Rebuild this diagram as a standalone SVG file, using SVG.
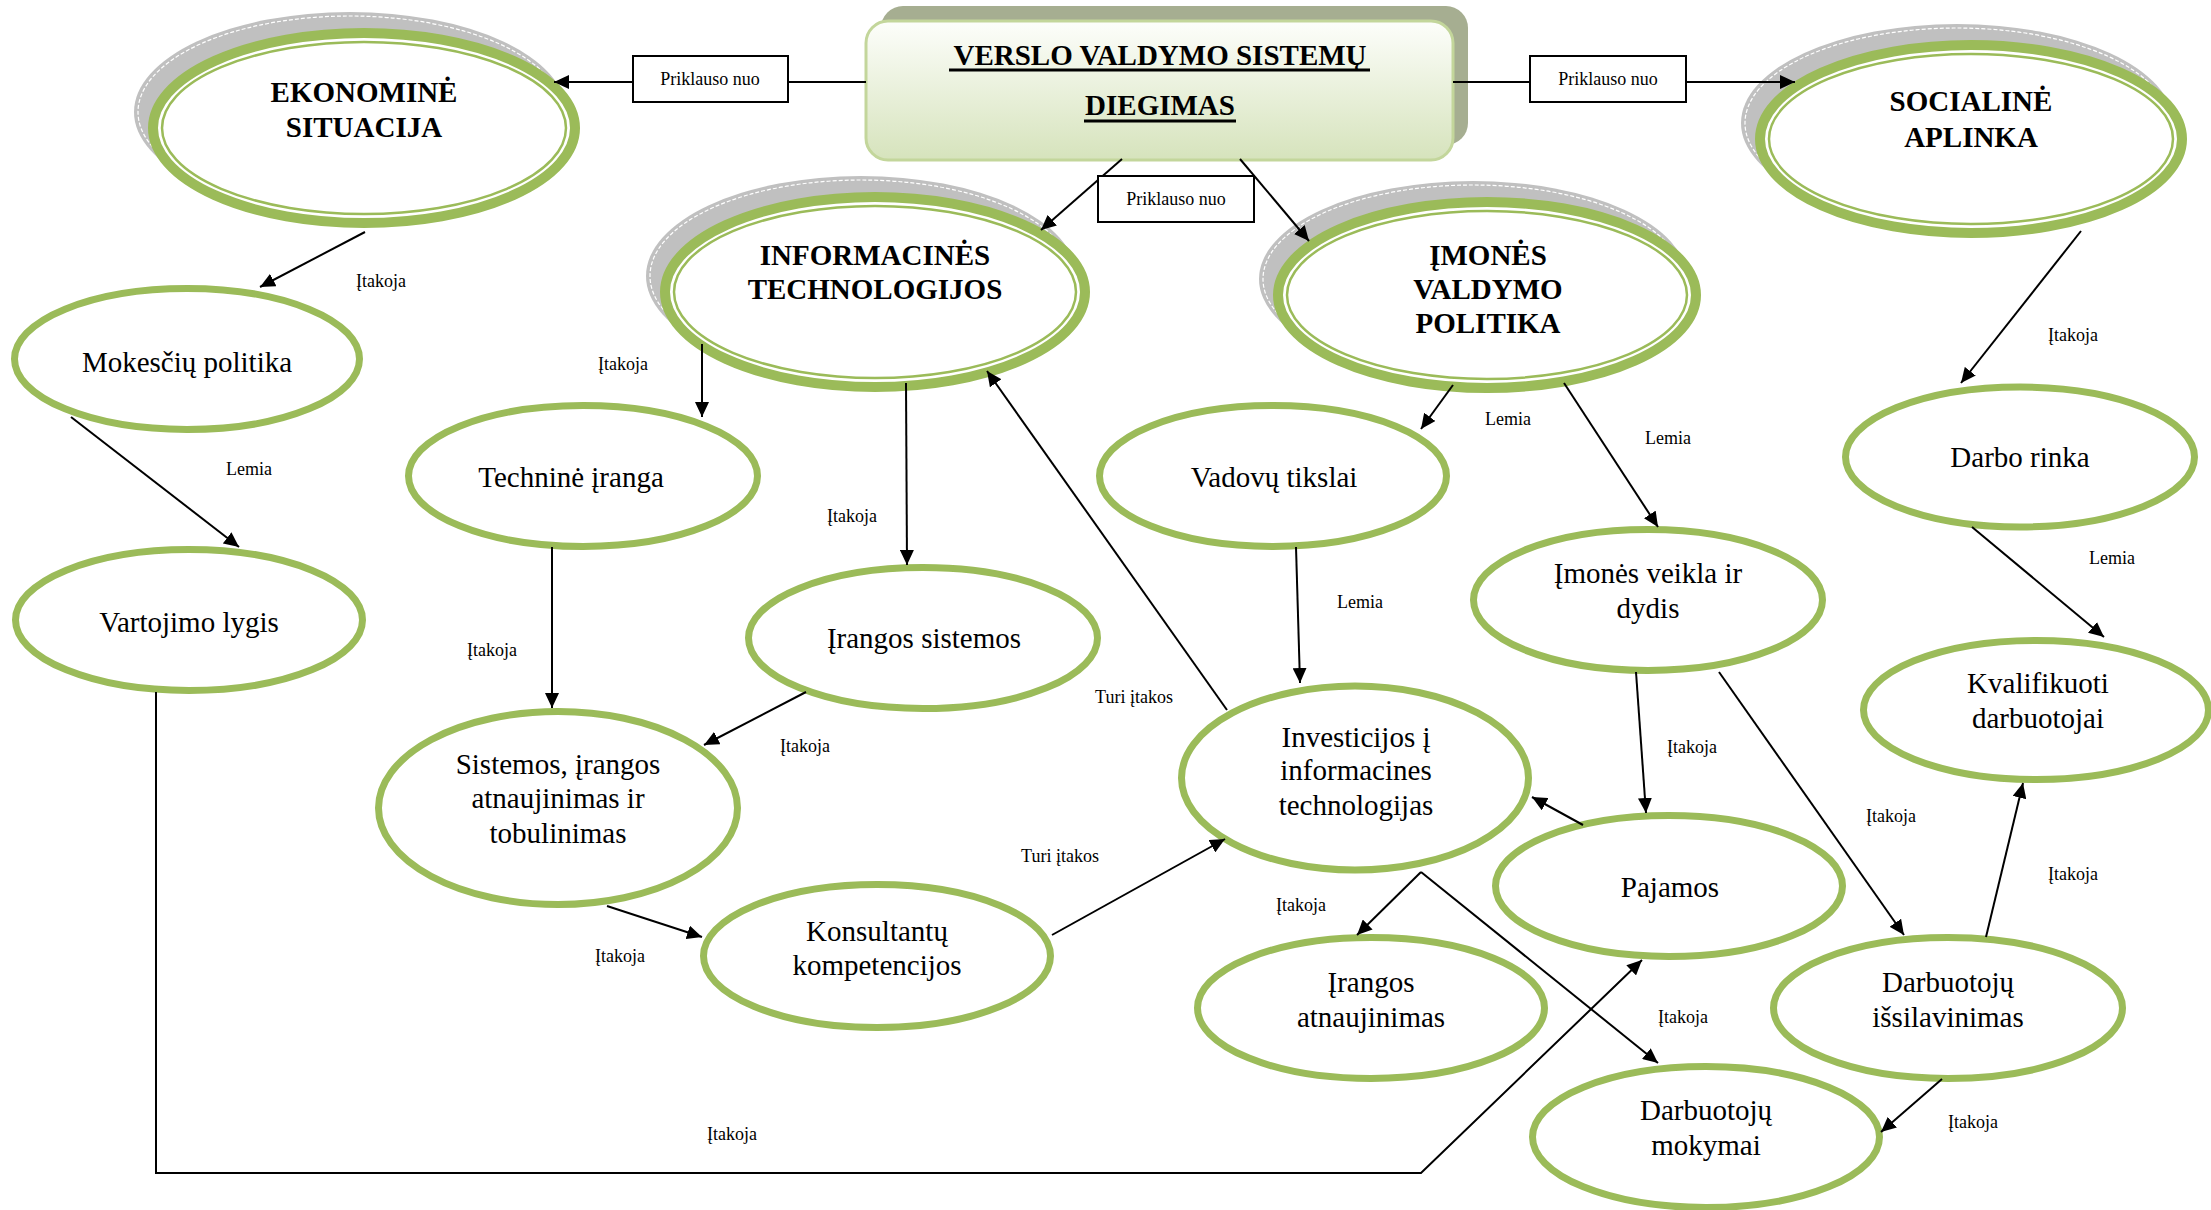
<svg xmlns="http://www.w3.org/2000/svg" width="2211" height="1210" viewBox="0 0 2211 1210">
<style>
.n{fill:#fff;stroke:#9bbb59;stroke-width:7}
.t{font-family:"Liberation Serif","Times New Roman",serif;font-size:29px;text-anchor:middle;fill:#000}
.b{font-weight:bold}
.lbl{font-family:"Liberation Serif","Times New Roman",serif;font-size:18px;text-anchor:middle;fill:#000}
.c{stroke:#000;stroke-width:2;fill:none;marker-end:url(#ah)}
.box{fill:#fff;stroke:#000;stroke-width:2}
.sh{fill:#c0c0c0}
.shl{fill:none;stroke:#fff;stroke-width:1.2;stroke-dasharray:4 2}
.mo{fill:#fff;stroke:#9bbb59;stroke-width:10}
.mi{fill:none;stroke:#9bbb59;stroke-width:2.5}
</style>
<defs>
<marker id="ah" markerWidth="16" markerHeight="14" refX="15" refY="7" orient="auto" markerUnits="userSpaceOnUse"><path d="M0,0 L15,7 L0,14 z" fill="#000"/></marker>
<linearGradient id="tg" x1="0" y1="0" x2="0" y2="1"><stop offset="0" stop-color="#fdfefb"/><stop offset="1" stop-color="#d6e3bc"/></linearGradient>
</defs>

<g id="top">
<rect x="881" y="6" width="587" height="139" rx="22" fill="#a6ae91"/>
<rect x="866" y="21" width="587" height="139" rx="22" fill="url(#tg)" stroke="#c3d69b" stroke-width="3"/>
<text class="t b" x="1160" y="65">VERSLO VALDYMO SISTEMŲ</text>
<line x1="949" y1="70" x2="1370" y2="70" stroke="#000" stroke-width="3"/>
<text class="t b" x="1160" y="115">DIEGIMAS</text>
<line x1="1084" y1="121" x2="1236" y2="121" stroke="#000" stroke-width="3"/>
</g>

<g id="ekonomine">
<ellipse class="sh" cx="350" cy="112" rx="216" ry="100"/>
<ellipse class="shl" cx="350" cy="112" rx="212" ry="96"/>
<ellipse class="mo" cx="364" cy="128" rx="211" ry="95"/>
<ellipse class="mi" cx="364" cy="128" rx="202" ry="86"/>
<text class="t b" x="364" y="102">EKONOMINĖ</text>
<text class="t b" x="364" y="137">SITUACIJA</text>
</g>

<g id="informacines">
<ellipse class="sh" cx="861" cy="276" rx="215" ry="100"/>
<ellipse class="shl" cx="861" cy="276" rx="211" ry="96"/>
<ellipse class="mo" cx="875" cy="292" rx="210" ry="95"/>
<ellipse class="mi" cx="875" cy="292" rx="201" ry="86"/>
<text class="t b" x="875" y="265">INFORMACINĖS</text>
<text class="t b" x="875" y="299">TECHNOLOGIJOS</text>
</g>

<g id="imones">
<ellipse class="sh" cx="1473" cy="279" rx="214" ry="98"/>
<ellipse class="shl" cx="1473" cy="279" rx="210" ry="94"/>
<ellipse class="mo" cx="1487" cy="295" rx="209" ry="93"/>
<ellipse class="mi" cx="1487" cy="295" rx="200" ry="84"/>
<text class="t b" x="1488" y="265">ĮMONĖS</text>
<text class="t b" x="1488" y="299">VALDYMO</text>
<text class="t b" x="1488" y="333">POLITIKA</text>
</g>

<g id="socialine">
<ellipse class="sh" cx="1957" cy="123" rx="216" ry="99"/>
<ellipse class="shl" cx="1957" cy="123" rx="212" ry="95"/>
<ellipse class="mo" cx="1971" cy="139" rx="211" ry="94"/>
<ellipse class="mi" cx="1971" cy="139" rx="202" ry="85"/>
<text class="t b" x="1971" y="111">SOCIALINĖ</text>
<text class="t b" x="1971" y="147">APLINKA</text>
</g>

<g id="mokesciu"><ellipse class="n" cx="187" cy="359" rx="172.5" ry="70.5"/><text class="t" x="187" y="372">Mokesčių politika</text></g>
<g id="vartojimo"><ellipse class="n" cx="189" cy="620" rx="173.5" ry="70.5"/><text class="t" x="189" y="632">Vartojimo lygis</text></g>
<g id="technine"><ellipse class="n" cx="583" cy="476" rx="174.5" ry="70.5"/><text class="t" x="571" y="487">Techninė įranga</text></g>
<g id="irangos-sistemos"><ellipse class="n" cx="923" cy="638" rx="174.5" ry="70.5"/><text class="t" x="924" y="648">Įrangos sistemos</text></g>
<g id="sistemos"><ellipse class="n" cx="558" cy="808" rx="179.5" ry="96.5"/><text class="t" x="558" y="774">Sistemos, įrangos</text><text class="t" x="558" y="808">atnaujinimas ir</text><text class="t" x="558" y="843">tobulinimas</text></g>
<g id="konsultantu"><ellipse class="n" cx="877" cy="956" rx="173.5" ry="71.5"/><text class="t" x="877" y="941">Konsultantų</text><text class="t" x="877" y="975">kompetencijos</text></g>
<g id="vadovu"><ellipse class="n" cx="1273" cy="476" rx="173.5" ry="70.5"/><text class="t" x="1274" y="487">Vadovų tikslai</text></g>
<g id="imones-veikla"><ellipse class="n" cx="1648" cy="600" rx="174.5" ry="70.5"/><text class="t" x="1648" y="583">Įmonės veikla ir</text><text class="t" x="1648" y="618">dydis</text></g>
<g id="darbo-rinka"><ellipse class="n" cx="2020" cy="457" rx="174.5" ry="70"/><text class="t" x="2020" y="467">Darbo rinka</text></g>
<g id="kvalifikuoti"><ellipse class="n" cx="2036" cy="710" rx="172.5" ry="69.5"/><text class="t" x="2038" y="693">Kvalifikuoti</text><text class="t" x="2038" y="728">darbuotojai</text></g>
<g id="investicijos"><ellipse class="n" cx="1355" cy="778" rx="173.5" ry="92"/><text class="t" x="1356" y="747">Investicijos į</text><text class="t" x="1356" y="780">informacines</text><text class="t" x="1356" y="815">technologijas</text></g>
<g id="pajamos"><ellipse class="n" cx="1669" cy="886" rx="173.5" ry="70.5"/><text class="t" x="1670" y="897">Pajamos</text></g>
<g id="irangos-atnaujinimas"><ellipse class="n" cx="1371" cy="1008" rx="173.5" ry="70.5"/><text class="t" x="1371" y="992">Įrangos</text><text class="t" x="1371" y="1027">atnaujinimas</text></g>
<g id="issilavinimas"><ellipse class="n" cx="1948" cy="1008" rx="174.5" ry="70.5"/><text class="t" x="1948" y="992">Darbuotojų</text><text class="t" x="1948" y="1027">išsilavinimas</text></g>
<g id="mokymai"><ellipse class="n" cx="1706" cy="1137" rx="173.5" ry="70.5"/><text class="t" x="1706" y="1120">Darbuotojų</text><text class="t" x="1706" y="1155">mokymai</text></g>

<g id="connectors">
<path class="c" d="M866,82 L554,82"/>
<path class="c" d="M1453,82 L1795,82"/>
<path class="c" d="M1122,159 L1041,230"/>
<path class="c" d="M1240,159 L1309,241"/>
<path class="c" d="M365,232 L260,287"/>
<path class="c" d="M71,417 L239,547"/>
<path class="c" stroke-width="2.5" d="M156,692 V1173 H1421 L1642,960"/>
<path class="c" d="M702,344 L702,417"/>
<path class="c" d="M906,383 L907,565"/>
<path class="c" d="M552,547 L552,708"/>
<path class="c" d="M806,692 L704,745"/>
<path class="c" d="M607,906 L702,937"/>
<path class="c" d="M1052,935 L1225,839"/>
<path class="c" d="M1227,710 L987,371"/>
<path class="c" d="M1453,385 L1421,429"/>
<path class="c" d="M1564,383 L1658,527"/>
<path class="c" d="M1296,547 L1300,683"/>
<path class="c" d="M1636,672 L1646,813"/>
<path class="c" d="M1719,672 L1904,935"/>
<path class="c" d="M1583,825 L1532,797"/>
<path class="c" d="M1421,872 L1357,935"/>
<path class="c" d="M1421,872 L1658,1063"/>
<path class="c" d="M1986,937 L2023,783"/>
<path class="c" d="M1942,1079 L1881,1132"/>
<path class="c" d="M2081,231 L1961,383"/>
<path class="c" d="M1972,527 L2104,637"/>
<rect class="box" x="633" y="56" width="155" height="46"/>
<text class="lbl" x="710" y="85">Priklauso nuo</text>
<rect class="box" x="1530" y="56" width="156" height="46"/>
<text class="lbl" x="1608" y="85">Priklauso nuo</text>
<rect class="box" x="1098" y="176" width="156" height="46"/>
<text class="lbl" x="1176" y="205">Priklauso nuo</text>
<text class="lbl" x="381" y="287">Įtakoja</text>
<text class="lbl" x="249" y="475">Lemia</text>
<text class="lbl" x="732" y="1140">Įtakoja</text>
<text class="lbl" x="623" y="370">Įtakoja</text>
<text class="lbl" x="852" y="522">Įtakoja</text>
<text class="lbl" x="492" y="656">Įtakoja</text>
<text class="lbl" x="805" y="752">Įtakoja</text>
<text class="lbl" x="620" y="962">Įtakoja</text>
<text class="lbl" x="1060" y="862">Turi įtakos</text>
<text class="lbl" x="1134" y="703">Turi įtakos</text>
<text class="lbl" x="1508" y="425">Lemia</text>
<text class="lbl" x="1668" y="444">Lemia</text>
<text class="lbl" x="1360" y="608">Lemia</text>
<text class="lbl" x="1692" y="753">Įtakoja</text>
<text class="lbl" x="1891" y="822">Įtakoja</text>
<text class="lbl" x="1301" y="911">Įtakoja</text>
<text class="lbl" x="1683" y="1023">Įtakoja</text>
<text class="lbl" x="2073" y="880">Įtakoja</text>
<text class="lbl" x="1973" y="1128">Įtakoja</text>
<text class="lbl" x="2073" y="341">Įtakoja</text>
<text class="lbl" x="2112" y="564">Lemia</text>
</g>
</svg>
